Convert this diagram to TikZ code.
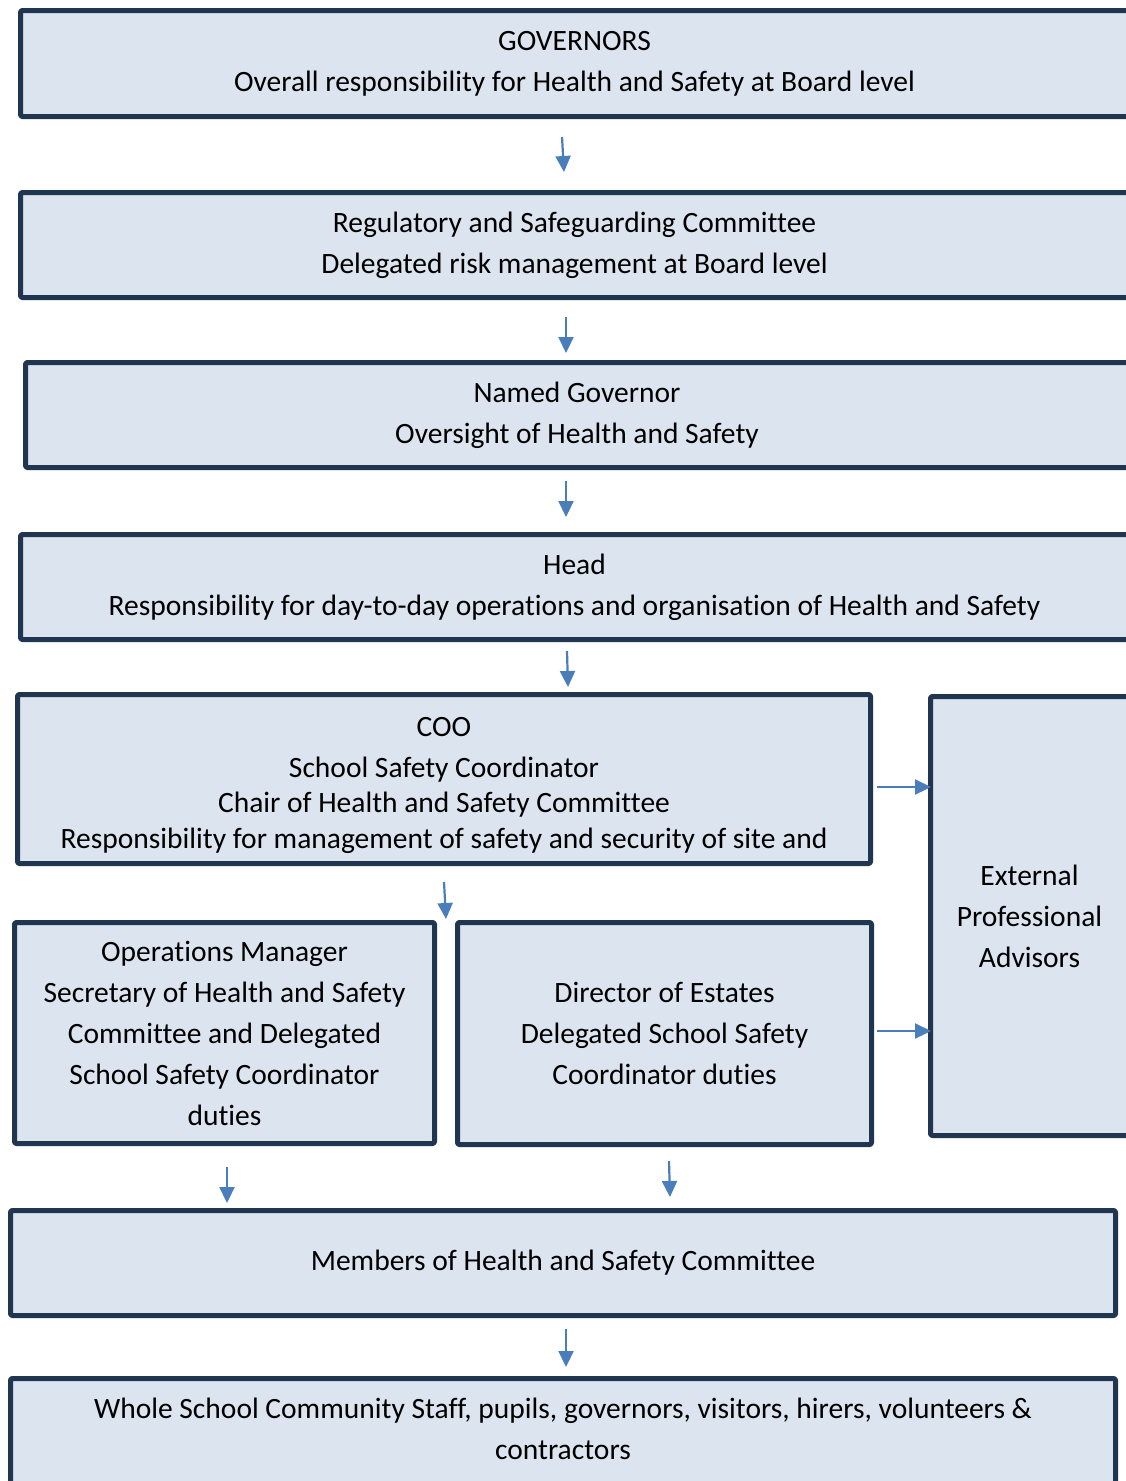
\documentclass[tikz,border=0pt]{standalone}
\usepackage{fontspec}
\setmainfont{Carlito}[Ligatures=NoCommon]
\usetikzlibrary{arrows.meta}
\definecolor{boxfill}{HTML}{DCE4F0}
\definecolor{boxline}{HTML}{1F3550}
\definecolor{arrblue}{HTML}{4A7EBB}
\tikzset{
  box/.style={draw=boxline, fill=boxfill, line width=5pt, line join=round,
    rounded corners=1.5pt, inner sep=0pt, outer sep=0pt, align=center,
    font=\fontsize{29.5}{41}\selectfont},
  arr/.style={draw=arrblue, line width=2.2pt,
    -{Triangle[width=15pt,length=16pt]}},
}
\newcommand{\boxat}[6]{% name, x1, y1, x2, y2, text
  \node[box, anchor=north west, minimum width={#4-#2}, minimum height={#5-#3}] (#1) at (#2,#3) {#6};}
\begin{document}
\begin{tikzpicture}[x=1pt,y=-1pt]
\useasboundingbox (0,0) rectangle (1126,1481);
\fill[white] (0,0) rectangle (1126,1481);
\boxat{gov}{20.5}{10.5}{1128.5}{116.5}{GOVERNORS\\Overall responsibility for Health and Safety at Board level}
\boxat{reg}{20.5}{192.5}{1128.5}{297.5}{Regulatory and Safeguarding Committee\\Delegated risk management at Board level}
\boxat{named}{25.5}{362.5}{1128.5}{467.5}{Named Governor\\Oversight of Health and Safety}
\boxat{head}{20.5}{534.5}{1128.5}{639.5}{Head\\Responsibility for day-to-day operations and organisation of Health and Safety}
\boxat{coo}{17.5}{694.5}{870.5}{863.5}{COO\\School Safety Coordinator\\[-6pt]Chair of Health and Safety Committee\\[-5pt]Responsibility for management of safety and security of site and\\[-49pt]}
\boxat{ext}{930.5}{696.5}{1128.5}{1135.5}{External\\Professional\\Advisors}
\boxat{ops}{14.5}{922.5}{434.5}{1143.5}{Operations Manager\\Secretary of Health and Safety\\Committee and Delegated\\School Safety Coordinator\\duties}
\boxat{dir}{457.5}{922.5}{871.5}{1144.5}{Director of Estates\\Delegated School Safety\\Coordinator duties}
\boxat{mem}{10.5}{1210.5}{1115.5}{1315.5}{Members of Health and Safety Committee}
\boxat{whole}{10.5}{1378.5}{1115.5}{1520}{\\[-2pt]Whole School Community Staff, pupils, governors, visitors, hirers, volunteers \&\\contractors\\[19pt]}
% arrow end points
\coordinate (a1s) at (562,137); \coordinate (a1e) at (564,172);
\coordinate (a2s) at (566,317); \coordinate (a2e) at (566,353);
\coordinate (a3s) at (566,481); \coordinate (a3e) at (566,517);
\coordinate (a4s) at (567,651); \coordinate (a4e) at (568,687);
\coordinate (a5s) at (877,787); \coordinate (a5e) at (931,787);
\coordinate (a6s) at (444,882); \coordinate (a6e) at (446,919);
\coordinate (a7s) at (877,1031); \coordinate (a7e) at (931,1031);
\coordinate (a8s) at (227,1167); \coordinate (a8e) at (227,1203);
\coordinate (a9s) at (669,1161); \coordinate (a9e) at (670,1197);
\coordinate (a10s) at (566,1329); \coordinate (a10e) at (566,1367);
\draw[arr] (a1s) -- (a1e);
\draw[arr] (a2s) -- (a2e);
\draw[arr] (a3s) -- (a3e);
\draw[arr] (a4s) -- (a4e);
\draw[arr] (a5s) -- (a5e);
\draw[arr] (a6s) -- (a6e);
\draw[arr] (a7s) -- (a7e);
\draw[arr] (a8s) -- (a8e);
\draw[arr] (a9s) -- (a9e);
\draw[arr] (a10s) -- (a10e);
\end{tikzpicture}
\end{document}
